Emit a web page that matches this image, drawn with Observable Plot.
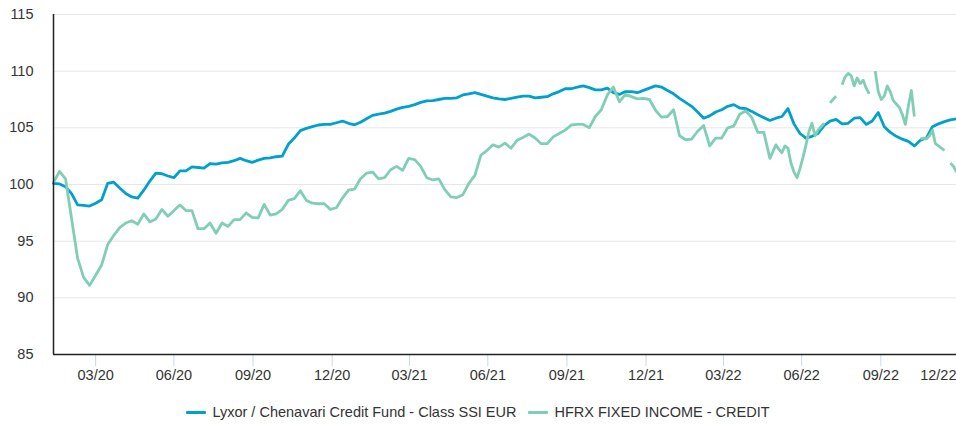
<!DOCTYPE html>
<html>
<head>
<meta charset="utf-8">
<script src="https://cdn.jsdelivr.net/npm/d3@7"></script>
<script src="https://cdn.jsdelivr.net/npm/@observablehq/plot@0.6"></script>
<style>
  html, body { margin: 0; padding: 0; background: #fff; }
  #chart svg { display: block; }
  .legend { display: flex; justify-content: center; align-items: center; gap: 12px;
    font-family: "Liberation Sans", Arial, sans-serif; font-size: 14.5px; color: #333;
    padding-top: 10px; height: 20px; }
  .legend .item { display: flex; align-items: center; }
  .legend .sw { width: 20px; height: 3px; margin-right: 6px; border-radius: 1px; }
</style>
</head>
<body>
<div id="chart"></div>
<script>
const seriesNames = ["Lyxor / Chenavari Credit Fund - Class SSI EUR", "HFRX FIXED INCOME - CREDIT"];
const seriesColors = ["#00a0cd", "#80cfb2"];
const startDate = "2020-02-11";

// weekly values
const lyxor = [
100.1,100.05,99.8,99.2,98.2,98.15,98.1,98.35,98.65,100.1,
100.2,99.7,99.2,98.9,98.8,99.5,100.3,101.0,100.95,100.75,
100.6,101.2,101.2,101.55,101.5,101.45,101.85,101.8,101.9,101.95,
102.1,102.3,102.1,101.95,102.15,102.3,102.35,102.45,102.5,103.55,
104.1,104.75,104.95,105.1,105.25,105.3,105.3,105.45,105.6,105.4,
105.27,105.5,105.8,106.1,106.2,106.3,106.45,106.65,106.8,106.9,
107.05,107.25,107.37,107.4,107.5,107.6,107.6,107.65,107.9,108.0,
108.1,107.95,107.8,107.65,107.55,107.5,107.6,107.7,107.8,107.8,
107.65,107.7,107.75,108.0,108.2,108.45,108.45,108.6,108.7,108.55,
108.35,108.35,108.5,108.1,107.95,108.2,108.2,108.1,108.3,108.5,
108.7,108.6,108.3,108.0,107.6,107.25,106.9,106.4,105.85,106.05,
106.4,106.6,106.9,107.05,106.75,106.7,106.45,106.15,105.9,105.65,
105.85,106.0,106.7,105.35,104.5,104.1,104.25,104.5,105.2,105.6,
105.75,105.35,105.4,105.85,105.9,105.3,105.6,106.35,105.1,104.6,
104.25,104.0,103.8,103.4,103.9,104.1,105.1,105.35,105.55,105.7,
105.8
];

// weekly values (first 120 weeks)
const hfrx = [
100.2,101.15,100.5,97.0,93.5,91.8,91.1,92.0,92.9,94.7,
95.5,96.2,96.6,96.8,96.5,97.4,96.7,96.95,97.8,97.2,
97.7,98.2,97.7,97.7,96.1,96.1,96.6,95.7,96.6,96.3,
96.9,96.9,97.5,97.1,97.05,98.25,97.3,97.4,97.8,98.6,
98.75,99.45,98.6,98.35,98.3,98.3,97.8,97.95,98.8,99.5,
99.6,100.5,101.0,101.1,100.5,100.6,101.3,101.6,101.25,102.3,
102.2,101.6,100.6,100.4,100.5,99.55,98.9,98.85,99.1,100.1,
100.8,102.6,103.0,103.5,103.3,103.65,103.2,103.9,104.15,104.45,
104.1,103.6,103.6,104.2,104.5,104.8,105.25,105.3,105.3,105.0,
106.0,106.6,107.9,108.6,107.3,107.95,107.75,107.55,107.6,107.5,
106.55,105.95,106.0,106.6,104.3,103.95,104.0,104.7,105.2,103.4,
104.1,104.1,105.0,105.15,106.2,106.5,105.9,104.6,104.6,102.3
];
// half-weekly values from week 120 on (null = missing)
const hfrxTail = [
103.5,103.1,102.8,103.4,103.2,101.9,101.1,100.6,101.4,102.4,
103.5,104.7,105.4,104.3,104.8,105.1,105.4,null,107.2,107.5,
107.8,null,108.8,109.5,109.8,109.6,108.7,109.4,108.9,109.2,
108.5,108.0,null,110.0,108.2,107.5,107.8,108.7,108.2,107.4,
107.1,106.8,106.2,105.3,106.9,108.3,106.0,null,104.0,104.1,
104.0,104.3,104.8,103.6,103.4,103.2,103.0,null,101.9,101.6,
101.1
];

const yTicks = [85, 90, 95, 100, 105, 110, 115];
const xTickDates = ["2020-03-31","2020-06-30","2020-09-30","2020-12-31","2021-03-31","2021-06-30","2021-09-30","2021-12-31","2022-03-31","2022-06-30","2022-09-30"];
const xTickLabels = ["03/20","06/20","09/20","12/20","03/21","06/21","09/21","12/21","03/22","06/22","09/22"];
const lastTickLabel = "12/22";

const DAY = 864e5;
const t0 = new Date(startDate + "T00:00:00Z");
const lyxorRows = lyxor.map((v, i) => ({date: new Date(+t0 + 7 * i * DAY), value: v, s: seriesNames[0]}));
const hfrxRows = hfrx.map((v, i) => ({date: new Date(+t0 + 7 * i * DAY), value: v, s: seriesNames[1]}))
  .concat(hfrxTail.map((v, k) => ({date: new Date(+t0 + (hfrx.length * 7 + 3.5 * k) * DAY), value: v, s: seriesNames[1]})));
const endDate = lyxorRows[lyxorRows.length - 1].date;
const tickDates = xTickDates.map(d => new Date(d + "T00:00:00Z"));
const labelOf = new Map(tickDates.map((d, i) => [+d, xTickLabels[i]]));

const chart = Plot.plot({
  width: 956,
  height: 392,
  marginLeft: 53,
  marginRight: 0,
  marginTop: 14,
  marginBottom: 38,
  style: {fontFamily: "'Liberation Sans', Arial, sans-serif", fontSize: "14.5px", color: "#333", background: "#fff"},
  x: {type: "utc", domain: [t0, endDate]},
  y: {domain: [85, 115]},
  marks: [
    Plot.gridY(yTicks.filter(t => t > 85), {stroke: "#e6e6e6", strokeOpacity: 1, strokeWidth: 1}),
    Plot.axisY(yTicks, {tickSize: 0, tickPadding: 20, label: null, fill: "#333"}),
    Plot.axisX(tickDates, {tickSize: 12, tickPadding: 3, stroke: "#ccd6eb", label: null, fill: "#333",
      tickFormat: d => labelOf.get(+d)}),
    Plot.axisX([endDate], {tickSize: 0, tickPadding: 15, textAnchor: "end", label: null, fill: "#333",
      tickFormat: () => lastTickLabel}),
    Plot.line(lyxorRows, {x: "date", y: "value", stroke: seriesColors[0], strokeWidth: 2.8, strokeLinejoin: "round", strokeLinecap: "round"}),
    Plot.line(hfrxRows, {x: "date", y: "value", stroke: seriesColors[1], strokeWidth: 2.8, strokeLinejoin: "round", strokeLinecap: "butt"}),
    Plot.ruleY([85], {stroke: "#222", strokeWidth: 1.5}),
    Plot.ruleX([t0], {stroke: "#222", strokeWidth: 1.5})
  ]
});
document.getElementById("chart").appendChild(chart);

const legend = document.createElement("div");
legend.className = "legend";
seriesNames.forEach((n, i) => {
  const it = document.createElement("div");
  it.className = "item";
  const sw = document.createElement("span");
  sw.className = "sw";
  sw.style.background = seriesColors[i];
  const tx = document.createElement("span");
  tx.textContent = n;
  it.appendChild(sw); it.appendChild(tx);
  legend.appendChild(it);
});
document.getElementById("chart").appendChild(legend);
</script>
</body>
</html>
